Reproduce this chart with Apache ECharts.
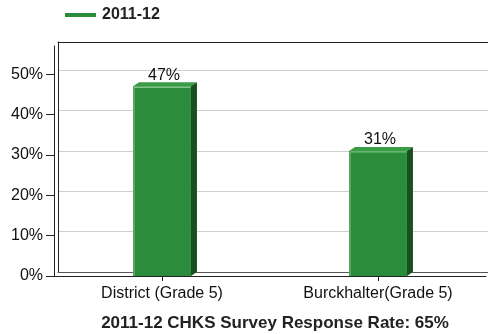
<!DOCTYPE html>
<html><head><meta charset="utf-8">
<script src="https://cdn.jsdelivr.net/npm/echarts@6/dist/echarts.min.js"></script>
<style>html,body{margin:0;padding:0;background:#fff}#c{width:488px;height:334px}</style>
</head><body><div id="c"></div>
<script>
const categories = ['District (Grade 5)', 'Burckhalter(Grade 5)'];
const seriesName = '2011-12';
const values = [47, 31];
const yTicks = [0, 10, 20, 30, 40, 50];
const titleText = '2011-12 CHKS Survey Response Rate: 65%';

const FONT = '"Liberation Sans", Arial, sans-serif';
const chart = echarts.init(document.getElementById('c'), null, {renderer: 'canvas'});
const yMax = 57;
chart.setOption({
  animation: false,
  backgroundColor: '#fff',
  title: {text: titleText, left: 270, textAlign: 'center', top: 310,
    textStyle: {fontFamily: FONT, fontSize: 17, fontWeight: 'bold', color: '#222'}},
  legend: {data: [{name: seriesName, icon: 'rect'}], left: 60, top: 2, itemWidth: 31, itemHeight: 4, itemGap: 5,
    textStyle: {fontFamily: FONT, fontSize: 16, fontWeight: 'bold', color: '#222', padding: [0, 0, 0, 1]}},
  grid: [
    {left: 54, right: 2, top: 46, bottom: 58, show: false},
    {left: 58, right: 0, top: 42, bottom: 62, show: false}
  ],
  xAxis: [
    {type: 'category', gridIndex: 0, data: categories,
      axisLine: {show: true, onZero: false, lineStyle: {color: '#222', width: 1}},
      axisTick: {show: true, alignWithLabel: true, length: 5, lineStyle: {color: '#222'}},
      axisLabel: {fontFamily: FONT, fontSize: 16, color: '#111', margin: 10}},
    {type: 'category', gridIndex: 1, data: categories, position: 'top',
      axisLine: {show: true, onZero: false, lineStyle: {color: '#222', width: 1}}, axisTick: {show: false}, axisLabel: {show: false}},
    {type: 'category', gridIndex: 1, data: categories, position: 'bottom',
      axisLine: {show: true, onZero: false, lineStyle: {color: '#555', width: 1}}, axisTick: {show: false}, axisLabel: {show: false}}
  ],
  yAxis: [
    {type: 'value', gridIndex: 0, min: 0, max: yMax, interval: 10,
      axisLine: {show: true, lineStyle: {color: '#222'}},
      axisTick: {show: true, length: 8, lineStyle: {color: '#222'}},
      splitLine: {show: false},
      axisLabel: {fontFamily: FONT, fontSize: 16, color: '#111', margin: 11, showMaxLabel: false,
        formatter: v => (yTicks.indexOf(v) >= 0 ? v + '%' : '')}},
    {type: 'value', gridIndex: 1, min: 0, max: yMax, interval: 10,
      axisLine: {show: true, lineStyle: {color: '#222'}}, axisTick: {show: false}, axisLabel: {show: false},
      splitLine: {show: true, showMaxLine: false, showMinLine: false, lineStyle: {color: '#cfcfcf', width: 1}}}
  ],
  series: [{
    name: seriesName, type: 'custom', xAxisIndex: 0, yAxisIndex: 0,
    itemStyle: {color: '#2b8c3b'},
    data: values.map((v, i) => [i, v]),
    renderItem: function (params, api) {
      const top = api.coord([api.value(0), api.value(1)]);
      const base = api.coord([api.value(0), 0]);
      const w = api.size([1, 0])[0] * 0.268;
      const x0 = top[0] - w / 2, x1 = top[0] + w / 2;
      const dx = 6, dy = 4;
      return {type: 'group', children: [
        {type: 'rect', shape: {x: x0, y: top[1], width: w, height: base[1] - top[1]},
          style: {fill: '#2b8c3b'}},
        {type: 'line', shape: {x1: x0 + 1, y1: top[1] + 1, x2: x0 + 1, y2: base[1]}, style: {stroke: '#7cc283', lineWidth: 1}},
        {type: 'polygon', shape: {points: [[x0, top[1]], [x0 + dx, top[1] - dy], [x1 + dx, top[1] - dy], [x1, top[1]]]},
          style: {fill: '#3a9c47'}},
        {type: 'line', shape: {x1: x0 + 1, y1: top[1] + 1, x2: x1, y2: top[1] + 1}, style: {stroke: '#8fd096', lineWidth: 1}},
        {type: 'polygon', shape: {points: [[x1, top[1]], [x1 + dx, top[1] - dy], [x1 + dx, base[1] - dy], [x1, base[1]]]},
          style: {fill: '#174f20'}},
        {type: 'text', style: {text: api.value(1) + '%', x: top[0] + 2, y: top[1] - dy + 1,
          align: 'center', verticalAlign: 'bottom', fontFamily: FONT, fontSize: 16, fill: '#111'}}
      ]};
    }
  }]
});
</script></body></html>
